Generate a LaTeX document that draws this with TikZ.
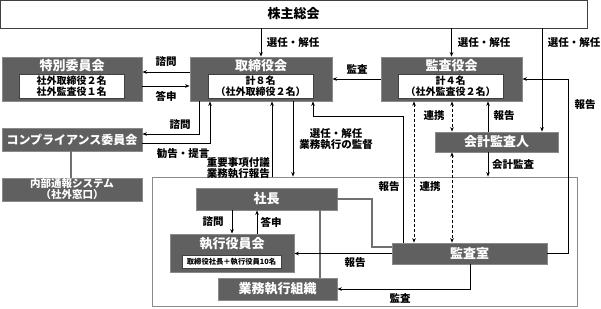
\documentclass[tikz,border=0pt]{standalone}
\usepackage{fontspec}
\setmainfont{Noto Sans CJK JP}
\usetikzlibrary{arrows.meta}
\definecolor{boxfill}{HTML}{606060}
\definecolor{boxedge}{HTML}{8A8A8A}
\definecolor{gline}{HTML}{707070}
\tikzset{
  dbox/.style={draw=boxedge, line width=0.8pt, fill=boxfill, inner sep=0pt, text=white,
    font=\fontsize{13}{15}\selectfont\bfseries},
  ttl/.style={inner sep=0pt, text=white, font=\fontsize{13}{15}\selectfont\bfseries},
  ibox/.style={draw=black!75, line width=0.6pt, fill=white, inner sep=0pt, align=center,
    font=\fontsize{10}{11.5}\selectfont\bfseries},
  wbox/.style={draw=black!75, line width=0.8pt, fill=white, inner sep=0pt},
  lbl/.style={inner sep=0pt, align=center, font=\fontsize{10.5}{11}\selectfont\bfseries},
  arr/.style={line width=1pt, -{Stealth[length=4.5pt,width=3.6pt]}},
  darr/.style={line width=1pt, dash pattern=on 3pt off 2pt,
    {Stealth[length=4.5pt,width=3.6pt]}-{Stealth[length=4.5pt,width=3.6pt]}},
  gln/.style={draw=gline, line width=1.3pt},
}
\begin{document}
\begin{tikzpicture}[x=1pt,y=-1pt]
\useasboundingbox (0,0) rectangle (601,308);
% big frame
\node[draw=boxedge, line width=0.8pt, fill=white, minimum width=425pt, minimum height=129pt, inner sep=0pt] (big) at (364.5,241.5) {};
% shareholders
\node[wbox, minimum width=587pt, minimum height=28pt, font=\fontsize{13}{15}\selectfont\bfseries] (shm) at (293.5,14) {株主総会};
% special committee
\node[dbox, minimum width=140pt, minimum height=44pt] (tok) at (72,79) {};
\node[ttl] (tokt) at (72,65.5) {特別委員会};
\node[ibox, minimum width=105pt, minimum height=24pt] (toki) at (71.5,86) {社外取締役２名\\社外監査役１名};
% board
\node[dbox, minimum width=142pt, minimum height=44pt] (tor) at (261,79) {};
\node[ttl] (tort) at (261,65.5) {取締役会};
\node[ibox, minimum width=105pt, minimum height=24pt] (tori) at (260.5,86) {計８名\\（社外取締役２名）};
% audit board
\node[dbox, minimum width=141pt, minimum height=44pt] (kan) at (451.5,79) {};
\node[ttl] (kant) at (451.5,65.5) {監査役会};
\node[ibox, minimum width=105pt, minimum height=24pt] (kani) at (450.5,86) {計４名\\（社外監査役２名）};
% compliance
\node[dbox, minimum width=140pt, minimum height=23pt, font=\fontsize{12}{14}\selectfont\bfseries] (comp) at (72,139.5) {コンプライアンス委員会};
\node[dbox, minimum width=140pt, minimum height=23pt, align=center, font=\fontsize{10.5}{11}\selectfont\bfseries] (naibu) at (72,189.5) {内部通報システム\\（社外窓口）};
% accounting auditor
\node[dbox, minimum width=123pt, minimum height=20pt] (kaikei) at (496.5,142) {会計監査人};
% president
\node[dbox, minimum width=141pt, minimum height=22pt] (shacho) at (266.5,199) {社長};
% executive officers
\node[dbox, minimum width=124pt, minimum height=38pt] (shikko) at (232,253) {};
\node[ttl] (shikkot) at (232,244) {執行役員会};
\node[ibox, minimum width=99pt, minimum height=13pt, font=\fontsize{7.3}{8}\selectfont\bfseries] (shikkoi) at (231.5,261.5) {取締役社長＋執行役員10名};
% business organisation
\node[dbox, minimum width=119pt, minimum height=22pt] (gyomu) at (277.5,289) {業務執行組織};
% internal audit office
\node[dbox, minimum width=155pt, minimum height=21pt] (kansa) at (469.5,253.5) {監査室};

% connectors
\draw[arr] (shm.south -| tor.north) -- (tor.north);
\node[lbl] (l1) at (293,43) {選任・解任};
\draw[arr] (shm.south -| kan.north) -- (kan.north);
\node[lbl] (l2) at (484,43) {選任・解任};
\draw[arr] (shm.south -| 542,0) -- (kaikei.north -| 542,0);
\node[lbl] (l3) at (574,43) {選任・解任};

\draw[arr] (tor.west |- 0,72) -- (tok.east |- 0,72);
\node[lbl] (l4) at (166,62) {諮問};
\draw[arr] (tok.east |- 0,86) -- (tor.west |- 0,86);
\node[lbl] (l5) at (166,96) {答申};

\draw[arr] (kan.west |- 0,79) -- (tor.east |- 0,79);
\node[lbl] (l6) at (357,69) {監査};

\draw[arr] (kansa.east) -| (568,79) -- (kan.east |- 0,79);
\node[lbl] (l7) at (585,105) {報告};

\draw[arr] (tor.south -| 199,0) |- (comp.east |- 0,134);
\node[lbl] (l8) at (180,125) {諮問};
\draw[arr] (comp.east |- 0,143) -| (tor.south -| 210,0);
\node[lbl] (l9) at (183,153) {勧告・提言};

\draw[gln] (comp.south -| 71,0) -- (naibu.north -| 71,0);

\draw[arr] (big.north -| 272,0) -- (tor.south -| 272,0);
\node[lbl, anchor=east, align=right] (l10) at (270,168) {重要事項付議\\業務執行報告};
\draw[arr] (tor.south -| 293,0) -- (big.north -| 293,0);
\node[lbl] (l11) at (336,139) {選任・解任\\業務執行の監督};

\draw[arr] (kansa.north -| 403,0) |- (313,116) -- (tor.south -| 313,0);
\node[lbl] (l12) at (389,187) {報告};

\draw[darr] (kan.south -| 414,0) -- (kansa.north -| 414,0);
\node[lbl] (l13) at (430,187) {連携};
\draw[darr] (kan.south -| 452,0) -- (kaikei.north -| 452,0);
\node[lbl] (l14) at (434,116) {連携};
\draw[darr] (kaikei.south -| 452,0) -- (kansa.north -| 452,0);

\draw[arr] (kaikei.north -| 488,0) -- (kan.south -| 488,0);
\node[lbl] (l15) at (504,116) {報告};
\draw[arr] (kaikei.south -| 488,0) -- (big.north -| 488,0);
\node[lbl] (l16) at (513,165) {会計監査};

\draw[arr] (shacho.south -| 232,0) -- (shikko.north -| 232,0);
\node[lbl] (l17) at (213,222) {諮問};
\draw[arr] (shikko.north -| 257,0) -- (shacho.south -| 257,0);
\node[lbl] (l18) at (271,222) {答申};

\draw[gln] (shacho.east) -| (372,247) -- (kansa.west |- 0,247);
\draw[gln] (shacho.south -| 320,0) -- (gyomu.north -| 320,0);

\draw[arr] (kansa.west |- 0,253.5) -- (shikko.east |- 0,253.5);
\node[lbl] (l19) at (355,263) {報告};
\draw[arr] (kansa.south -| 470,0) |- (gyomu.east);
\node[lbl] (l20) at (400,298) {監査};
\end{tikzpicture}
\end{document}
